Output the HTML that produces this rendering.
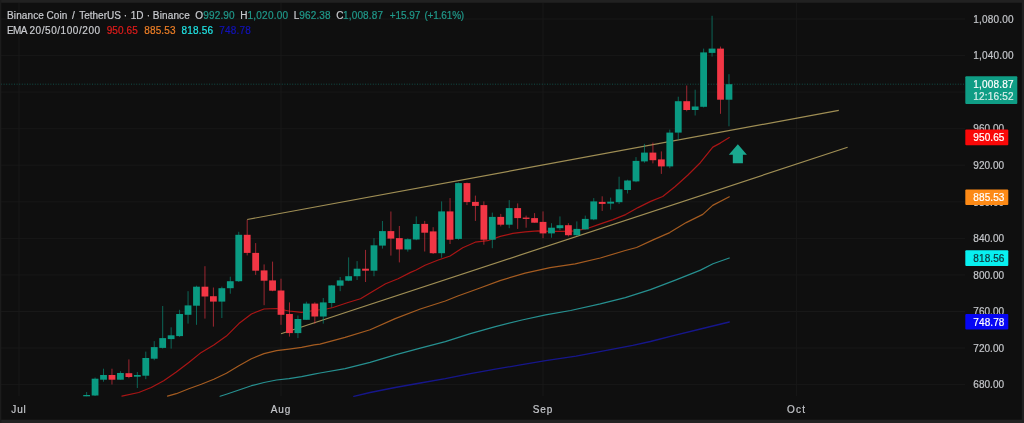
<!DOCTYPE html>
<html><head><meta charset="utf-8"><title>Binance Coin / TetherUS</title>
<style>
html,body{margin:0;padding:0;background:#0f0f0f;}
body{width:1024px;height:423px;overflow:hidden;position:relative;font-family:"Liberation Sans","DejaVu Sans",sans-serif;color:#c9cbcf;}
#frame{position:absolute;left:0;top:0;width:1024px;height:423px;box-sizing:border-box;border-style:solid;border-color:#1f1f1f;border-width:3px 3px 4px 1px;pointer-events:none;}
.s{position:absolute;white-space:pre;font-size:10px;line-height:12px;height:12px;-webkit-text-stroke:0.2px currentColor;transform-origin:0 0;}
.box{position:absolute;left:965.3px;width:43px;height:15.6px;border-radius:1px;}
</style></head><body>
<svg width="1024" height="423" viewBox="0 0 1024 423" style="position:absolute;left:0;top:0">
<rect x="1" y="384.1" width="964" height="1" fill="#181818"/>
<rect x="1" y="347.5" width="964" height="1" fill="#181818"/>
<rect x="1" y="311.0" width="964" height="1" fill="#181818"/>
<rect x="1" y="274.4" width="964" height="1" fill="#181818"/>
<rect x="1" y="237.9" width="964" height="1" fill="#181818"/>
<rect x="1" y="201.3" width="964" height="1" fill="#181818"/>
<rect x="1" y="164.7" width="964" height="1" fill="#181818"/>
<rect x="1" y="128.2" width="964" height="1" fill="#181818"/>
<rect x="1" y="91.6" width="964" height="1" fill="#181818"/>
<rect x="1" y="55.1" width="964" height="1" fill="#181818"/>
<rect x="1" y="18.5" width="964" height="1" fill="#181818"/>
<rect x="18.5" y="3" width="1" height="393" fill="#181818"/>
<rect x="280.5" y="3" width="1" height="393" fill="#181818"/>
<rect x="542.5" y="3" width="1" height="393" fill="#181818"/>
<rect x="796.1" y="3" width="1" height="393" fill="#181818"/>
<line x1="1" y1="84.2" x2="965" y2="84.2" stroke="#12a090" stroke-width="1" stroke-dasharray="1 1.6" opacity="0.42"/>
<line x1="247.2" y1="219.5" x2="838.8" y2="110.4" stroke="#c8b268" stroke-width="1.2" opacity="0.78"/>
<line x1="281" y1="333.7" x2="847.6" y2="147.3" stroke="#c8b268" stroke-width="1.2" opacity="0.78"/>
<polyline points="353.8,396.3 370.1,392.5 395.2,387.5 420.3,383 445.3,378.7 470.4,373.7 495.4,369.2 520.5,364.9 545.6,360.7 576.1,356.2 632.8,345.3 650.4,341.5 675.4,335.2 700.5,329 729.3,322" fill="none" stroke="#1a1ac0" stroke-width="1.3" stroke-linejoin="round" stroke-linecap="round" opacity="0.7"/>
<polyline points="220.1,396.2 226.4,394.2 238.9,390 251.4,385.7 264,382.5 276.5,380 289,378.7 301.6,376.7 314.1,374.2 320,373 345.1,368.7 370.1,362.4 395.2,354.9 420.3,348.1 445.3,341.6 470.4,333.6 495.4,326.6 522,320 545.6,314.8 570.6,310.5 600.3,303.9 625.3,297.6 650.4,289.6 675.4,280.1 700.5,270.1 713,263.8 729.3,258" fill="none" stroke="#30c8c8" stroke-width="1.2" stroke-linejoin="round" stroke-linecap="round" opacity="0.7"/>
<polyline points="167.5,396.2 176.3,393.7 188.8,388.7 201.3,384.2 213.8,379.2 226.4,373.2 238.9,365.7 251.4,358.7 264,353.6 276.5,350.6 289,349.1 301.6,347.4 314.1,344.9 320,344.1 345.1,337.4 370.1,329.8 395.2,318.6 420.3,309 445.3,301 457.8,296 480,288 500,280.6 525.1,273.1 550.1,267.6 575.2,263.8 600.3,258 625.3,250.5 636.6,247.5 653.1,239.9 669.7,232.6 686.2,222.6 702.8,214.4 712.7,205.4 729.3,196.8" fill="none" stroke="#e47c28" stroke-width="1.2" stroke-linejoin="round" stroke-linecap="round" opacity="0.7"/>
<polyline points="121.9,396.2 138.7,392.5 151.2,387.5 163.7,380.7 176.3,372 188.8,362.4 201.3,352.4 213.8,344.9 226.4,336.1 238.9,323.6 251.4,314 264,309 276.5,308.5 289,311 301.6,312.3 314.1,310.5 326.6,309 333,307.5 348,302.5 360.5,298.7 373,291.2 385.6,283.7 398.1,278.7 410.6,272.4 416.1,270 425,265.3 437.6,260.3 450.1,256 462.7,247.7 475.2,242.2 487.7,240.7 500.3,236.4 512.8,233.4 525.3,231.9 537.8,230.9 550.4,231.4 562.9,231.4 575.4,230.9 588,228.2 600.5,223.9 613,219.6 625.6,214.6 638.1,207.6 650.6,201.4 662.7,196.5 675.2,186.5 687.7,175.2 700.3,162.7 712.8,147.1 720.3,143.1 729.3,137.6" fill="none" stroke="#e41818" stroke-width="1.2" stroke-linejoin="round" stroke-linecap="round" opacity="0.72"/>
<rect x="86.12" y="392.0" width="1.0" height="4.3" fill="#0a9a82" opacity="0.62"/><rect x="83.22" y="395.0" width="6.8" height="1.3" fill="#0a9a82"/>
<rect x="94.57" y="377.5" width="1.0" height="18.5" fill="#0a9a82" opacity="0.62"/><rect x="91.67" y="378.7" width="6.8" height="16.8" fill="#0a9a82"/>
<rect x="103.02" y="368.7" width="1.0" height="13.0" fill="#0a9a82" opacity="0.62"/><rect x="100.12" y="375.0" width="6.8" height="4.7" fill="#0a9a82"/>
<rect x="111.47" y="368.7" width="1.0" height="15.8" fill="#f23645" opacity="0.62"/><rect x="108.57" y="375.0" width="6.8" height="4.7" fill="#f23645"/>
<rect x="119.92" y="371.2" width="1.0" height="8.5" fill="#0a9a82" opacity="0.62"/><rect x="117.02" y="373.0" width="6.8" height="6.7" fill="#0a9a82"/>
<rect x="128.38" y="359.4" width="1.0" height="18.8" fill="#f23645" opacity="0.62"/><rect x="125.48" y="373.2" width="6.8" height="3.8" fill="#f23645"/>
<rect x="136.83" y="372.0" width="1.0" height="16.0" fill="#0a9a82" opacity="0.62"/><rect x="133.93" y="375.0" width="6.8" height="1.7" fill="#0a9a82"/>
<rect x="145.28" y="351.6" width="1.0" height="27.6" fill="#0a9a82" opacity="0.62"/><rect x="142.38" y="358.0" width="6.8" height="17.7" fill="#0a9a82"/>
<rect x="153.73" y="341.1" width="1.0" height="19.1" fill="#0a9a82" opacity="0.62"/><rect x="150.83" y="347.1" width="6.8" height="11.6" fill="#0a9a82"/>
<rect x="162.18" y="306.0" width="1.0" height="42.6" fill="#0a9a82" opacity="0.62"/><rect x="159.28" y="338.1" width="6.8" height="9.8" fill="#0a9a82"/>
<rect x="170.64" y="327.3" width="1.0" height="21.3" fill="#0a9a82" opacity="0.62"/><rect x="167.74" y="335.3" width="6.8" height="3.8" fill="#0a9a82"/>
<rect x="179.09" y="309.8" width="1.0" height="27.1" fill="#0a9a82" opacity="0.62"/><rect x="176.19" y="314.0" width="6.8" height="22.1" fill="#0a9a82"/>
<rect x="187.54" y="291.2" width="1.0" height="32.4" fill="#0a9a82" opacity="0.62"/><rect x="184.64" y="305.4" width="6.8" height="9.4" fill="#0a9a82"/>
<rect x="195.99" y="285.7" width="1.0" height="39.1" fill="#0a9a82" opacity="0.62"/><rect x="193.09" y="286.7" width="6.8" height="19.0" fill="#0a9a82"/>
<rect x="204.44" y="266.2" width="1.0" height="52.4" fill="#f23645" opacity="0.62"/><rect x="201.54" y="286.7" width="6.8" height="9.8" fill="#f23645"/>
<rect x="212.90" y="287.5" width="1.0" height="39.1" fill="#f23645" opacity="0.62"/><rect x="210.00" y="296.2" width="6.8" height="5.4" fill="#f23645"/>
<rect x="221.35" y="286.7" width="1.0" height="31.3" fill="#0a9a82" opacity="0.62"/><rect x="218.45" y="288.2" width="6.8" height="13.4" fill="#0a9a82"/>
<rect x="229.80" y="276.7" width="1.0" height="17.0" fill="#0a9a82" opacity="0.62"/><rect x="226.90" y="281.2" width="6.8" height="7.0" fill="#0a9a82"/>
<rect x="238.25" y="231.8" width="1.0" height="50.2" fill="#0a9a82" opacity="0.62"/><rect x="235.35" y="234.8" width="6.8" height="46.4" fill="#0a9a82"/>
<rect x="246.70" y="219.8" width="1.0" height="35.6" fill="#f23645" opacity="0.62"/><rect x="243.80" y="234.8" width="6.8" height="18.1" fill="#f23645"/>
<rect x="255.16" y="243.1" width="1.0" height="31.8" fill="#f23645" opacity="0.62"/><rect x="252.26" y="252.9" width="6.8" height="17.8" fill="#f23645"/>
<rect x="263.61" y="264.4" width="1.0" height="40.8" fill="#f23645" opacity="0.62"/><rect x="260.71" y="270.4" width="6.8" height="10.3" fill="#f23645"/>
<rect x="272.06" y="261.6" width="1.0" height="29.6" fill="#f23645" opacity="0.62"/><rect x="269.16" y="280.4" width="6.8" height="10.3" fill="#f23645"/>
<rect x="280.51" y="278.7" width="1.0" height="46.1" fill="#f23645" opacity="0.62"/><rect x="277.61" y="290.5" width="6.8" height="24.3" fill="#f23645"/>
<rect x="288.96" y="302.4" width="1.0" height="34.2" fill="#f23645" opacity="0.62"/><rect x="286.06" y="314.0" width="6.8" height="19.1" fill="#f23645"/>
<rect x="297.42" y="315.5" width="1.0" height="22.6" fill="#0a9a82" opacity="0.62"/><rect x="294.52" y="319.0" width="6.8" height="14.1" fill="#0a9a82"/>
<rect x="305.87" y="301.7" width="1.0" height="18.1" fill="#0a9a82" opacity="0.62"/><rect x="302.97" y="303.6" width="6.8" height="16.2" fill="#0a9a82"/>
<rect x="314.32" y="302.3" width="1.0" height="21.3" fill="#f23645" opacity="0.62"/><rect x="311.42" y="303.6" width="6.8" height="12.9" fill="#f23645"/>
<rect x="322.77" y="298.0" width="1.0" height="25.6" fill="#0a9a82" opacity="0.62"/><rect x="319.87" y="302.4" width="6.8" height="14.1" fill="#0a9a82"/>
<rect x="331.22" y="285.0" width="1.0" height="22.5" fill="#0a9a82" opacity="0.62"/><rect x="328.32" y="285.4" width="6.8" height="17.6" fill="#0a9a82"/>
<rect x="339.68" y="277.0" width="1.0" height="14.2" fill="#0a9a82" opacity="0.62"/><rect x="336.78" y="280.4" width="6.8" height="5.3" fill="#0a9a82"/>
<rect x="348.13" y="257.4" width="1.0" height="23.8" fill="#0a9a82" opacity="0.62"/><rect x="345.23" y="276.2" width="6.8" height="4.5" fill="#0a9a82"/>
<rect x="356.58" y="261.1" width="1.0" height="18.9" fill="#0a9a82" opacity="0.62"/><rect x="353.68" y="268.7" width="6.8" height="7.5" fill="#0a9a82"/>
<rect x="365.03" y="249.9" width="1.0" height="32.1" fill="#f23645" opacity="0.62"/><rect x="362.13" y="268.7" width="6.8" height="2.0" fill="#f23645"/>
<rect x="373.48" y="238.1" width="1.0" height="38.1" fill="#0a9a82" opacity="0.62"/><rect x="370.58" y="245.3" width="6.8" height="25.4" fill="#0a9a82"/>
<rect x="381.94" y="221.0" width="1.0" height="27.6" fill="#0a9a82" opacity="0.62"/><rect x="379.04" y="231.1" width="6.8" height="14.5" fill="#0a9a82"/>
<rect x="390.39" y="211.5" width="1.0" height="44.1" fill="#f23645" opacity="0.62"/><rect x="387.49" y="231.1" width="6.8" height="7.5" fill="#f23645"/>
<rect x="398.84" y="226.0" width="1.0" height="36.4" fill="#f23645" opacity="0.62"/><rect x="395.94" y="238.1" width="6.8" height="11.3" fill="#f23645"/>
<rect x="407.29" y="238.3" width="1.0" height="13.3" fill="#0a9a82" opacity="0.62"/><rect x="404.39" y="239.2" width="6.8" height="10.3" fill="#0a9a82"/>
<rect x="415.74" y="216.4" width="1.0" height="23.8" fill="#0a9a82" opacity="0.62"/><rect x="412.84" y="224.0" width="6.8" height="15.5" fill="#0a9a82"/>
<rect x="424.20" y="220.9" width="1.0" height="30.6" fill="#f23645" opacity="0.62"/><rect x="421.30" y="223.9" width="6.8" height="8.8" fill="#f23645"/>
<rect x="432.65" y="227.2" width="1.0" height="26.8" fill="#f23645" opacity="0.62"/><rect x="429.75" y="231.4" width="6.8" height="21.8" fill="#f23645"/>
<rect x="441.10" y="201.4" width="1.0" height="56.3" fill="#0a9a82" opacity="0.62"/><rect x="438.20" y="211.4" width="6.8" height="41.8" fill="#0a9a82"/>
<rect x="449.55" y="198.1" width="1.0" height="45.9" fill="#f23645" opacity="0.62"/><rect x="446.65" y="211.4" width="6.8" height="28.3" fill="#f23645"/>
<rect x="458.00" y="182.6" width="1.0" height="57.1" fill="#0a9a82" opacity="0.62"/><rect x="455.10" y="183.1" width="6.8" height="55.8" fill="#0a9a82"/>
<rect x="466.46" y="182.6" width="1.0" height="22.5" fill="#f23645" opacity="0.62"/><rect x="463.56" y="183.1" width="6.8" height="19.0" fill="#f23645"/>
<rect x="474.91" y="195.6" width="1.0" height="25.3" fill="#f23645" opacity="0.62"/><rect x="472.01" y="201.9" width="6.8" height="4.0" fill="#f23645"/>
<rect x="483.36" y="201.4" width="1.0" height="43.3" fill="#f23645" opacity="0.62"/><rect x="480.46" y="205.1" width="6.8" height="34.6" fill="#f23645"/>
<rect x="491.81" y="212.6" width="1.0" height="35.6" fill="#0a9a82" opacity="0.62"/><rect x="488.91" y="216.9" width="6.8" height="22.8" fill="#0a9a82"/>
<rect x="500.26" y="213.9" width="1.0" height="12.5" fill="#f23645" opacity="0.62"/><rect x="497.36" y="216.9" width="6.8" height="7.8" fill="#f23645"/>
<rect x="508.72" y="200.1" width="1.0" height="28.1" fill="#0a9a82" opacity="0.62"/><rect x="505.82" y="208.1" width="6.8" height="16.6" fill="#0a9a82"/>
<rect x="517.17" y="203.4" width="1.0" height="25.5" fill="#f23645" opacity="0.62"/><rect x="514.27" y="208.1" width="6.8" height="10.0" fill="#f23645"/>
<rect x="525.62" y="215.6" width="1.0" height="12.1" fill="#f23645" opacity="0.62"/><rect x="522.72" y="217.6" width="6.8" height="1.3" fill="#f23645"/>
<rect x="534.07" y="213.1" width="1.0" height="9.6" fill="#f23645" opacity="0.62"/><rect x="531.17" y="218.1" width="6.8" height="4.6" fill="#f23645"/>
<rect x="542.52" y="211.4" width="1.0" height="26.8" fill="#f23645" opacity="0.62"/><rect x="539.62" y="221.9" width="6.8" height="11.5" fill="#f23645"/>
<rect x="550.98" y="223.2" width="1.0" height="14.5" fill="#0a9a82" opacity="0.62"/><rect x="548.08" y="227.7" width="6.8" height="5.7" fill="#0a9a82"/>
<rect x="559.43" y="216.4" width="1.0" height="13.8" fill="#0a9a82" opacity="0.62"/><rect x="556.53" y="225.2" width="6.8" height="3.0" fill="#0a9a82"/>
<rect x="567.88" y="223.2" width="1.0" height="13.2" fill="#f23645" opacity="0.62"/><rect x="564.98" y="225.2" width="6.8" height="10.0" fill="#f23645"/>
<rect x="576.33" y="221.4" width="1.0" height="14.5" fill="#0a9a82" opacity="0.62"/><rect x="573.43" y="228.9" width="6.8" height="6.3" fill="#0a9a82"/>
<rect x="584.78" y="215.6" width="1.0" height="13.8" fill="#0a9a82" opacity="0.62"/><rect x="581.88" y="218.9" width="6.8" height="10.5" fill="#0a9a82"/>
<rect x="593.24" y="198.1" width="1.0" height="22.1" fill="#0a9a82" opacity="0.62"/><rect x="590.34" y="201.4" width="6.8" height="18.0" fill="#0a9a82"/>
<rect x="601.69" y="196.3" width="1.0" height="14.6" fill="#f23645" opacity="0.62"/><rect x="598.79" y="201.9" width="6.8" height="2.0" fill="#f23645"/>
<rect x="610.14" y="197.6" width="1.0" height="12.0" fill="#0a9a82" opacity="0.62"/><rect x="607.24" y="201.7" width="6.8" height="1.9" fill="#0a9a82"/>
<rect x="618.59" y="176.7" width="1.0" height="27.3" fill="#0a9a82" opacity="0.62"/><rect x="615.69" y="189.3" width="6.8" height="12.9" fill="#0a9a82"/>
<rect x="627.04" y="179.7" width="1.0" height="13.8" fill="#0a9a82" opacity="0.62"/><rect x="624.14" y="180.5" width="6.8" height="9.5" fill="#0a9a82"/>
<rect x="635.50" y="157.1" width="1.0" height="25.1" fill="#0a9a82" opacity="0.62"/><rect x="632.60" y="160.9" width="6.8" height="20.5" fill="#0a9a82"/>
<rect x="643.95" y="143.9" width="1.0" height="18.8" fill="#0a9a82" opacity="0.62"/><rect x="641.05" y="152.6" width="6.8" height="8.8" fill="#0a9a82"/>
<rect x="652.40" y="142.6" width="1.0" height="20.8" fill="#f23645" opacity="0.62"/><rect x="649.50" y="152.6" width="6.8" height="7.6" fill="#f23645"/>
<rect x="660.85" y="151.4" width="1.0" height="22.5" fill="#f23645" opacity="0.62"/><rect x="657.95" y="159.4" width="6.8" height="7.0" fill="#f23645"/>
<rect x="669.30" y="129.6" width="1.0" height="38.6" fill="#0a9a82" opacity="0.62"/><rect x="666.40" y="132.6" width="6.8" height="33.8" fill="#0a9a82"/>
<rect x="677.76" y="96.7" width="1.0" height="42.9" fill="#0a9a82" opacity="0.62"/><rect x="674.86" y="101.2" width="6.8" height="31.4" fill="#0a9a82"/>
<rect x="686.21" y="85.5" width="1.0" height="25.8" fill="#f23645" opacity="0.62"/><rect x="683.31" y="101.2" width="6.8" height="8.8" fill="#f23645"/>
<rect x="694.66" y="89.7" width="1.0" height="25.8" fill="#0a9a82" opacity="0.62"/><rect x="691.76" y="106.5" width="6.8" height="3.5" fill="#0a9a82"/>
<rect x="703.11" y="48.6" width="1.0" height="58.9" fill="#0a9a82" opacity="0.62"/><rect x="700.21" y="52.4" width="6.8" height="54.4" fill="#0a9a82"/>
<rect x="711.56" y="15.8" width="1.0" height="40.8" fill="#0a9a82" opacity="0.62"/><rect x="708.66" y="48.6" width="6.8" height="4.3" fill="#0a9a82"/>
<rect x="720.02" y="46.6" width="1.0" height="67.2" fill="#f23645" opacity="0.62"/><rect x="717.12" y="48.6" width="6.8" height="51.1" fill="#f23645"/>
<rect x="728.47" y="74.2" width="1.0" height="52.1" fill="#0a9a82" opacity="0.62"/><rect x="725.57" y="84.2" width="6.8" height="15.5" fill="#0a9a82"/>
<polygon points="737.85,144.2 746.9,154.7 742.9,154.7 742.9,163.2 732.8,163.2 732.8,154.7 728.8,154.7" fill="#1aa88f"/>
</svg>
<span class="s" style="left:7.05px;top:9.60px;color:#c9cbcf;letter-spacing:0.108px">Binance</span>
<span class="s" style="left:46.55px;top:9.60px;color:#c9cbcf;letter-spacing:0.080px">Coin</span>
<span class="s" style="left:72.11px;top:9.60px;color:#c9cbcf">/</span>
<span class="s" style="left:79.25px;top:9.60px;color:#c9cbcf;letter-spacing:-0.011px">TetherUS</span>
<span class="s" style="left:123.83px;top:9.60px;color:#c9cbcf">·</span>
<span class="s" style="left:130.75px;top:9.60px;color:#c9cbcf;letter-spacing:-0.098px">1D</span>
<span class="s" style="left:146.63px;top:9.60px;color:#c9cbcf">·</span>
<span class="s" style="left:152.85px;top:9.60px;color:#c9cbcf;letter-spacing:0.137px">Binance</span>
<span class="s" style="left:195.31px;top:9.60px;color:#c9cbcf">O</span>
<span class="s" style="left:203.15px;top:9.60px;color:#20998a;letter-spacing:0.184px">992.90</span>
<span class="s" style="left:240.33px;top:9.60px;color:#c9cbcf">H</span>
<span class="s" style="left:247.55px;top:9.60px;color:#20998a;letter-spacing:0.220px">1,020.00</span>
<span class="s" style="left:293.77px;top:9.60px;color:#c9cbcf">L</span>
<span class="s" style="left:299.35px;top:9.60px;color:#20998a;letter-spacing:0.118px">962.38</span>
<span class="s" style="left:336.28px;top:9.60px;color:#c9cbcf">C</span>
<span class="s" style="left:343.05px;top:9.60px;color:#20998a;letter-spacing:0.145px">1,008.87</span>
<span class="s" style="left:389.75px;top:9.60px;color:#20998a;letter-spacing:-0.046px">+15.97</span>
<span class="s" style="left:424.45px;top:9.60px;color:#20998a;letter-spacing:-0.157px">(+1.61%)</span>
<span class="s" style="left:7.05px;top:24.60px;color:#c9cbcf;letter-spacing:-0.600px">EMA</span>
<span class="s" style="left:29.45px;top:24.60px;color:#c9cbcf;letter-spacing:0.557px">20/50/100/200</span>
<span class="s" style="left:106.65px;top:24.60px;color:#e21c1c;letter-spacing:0.118px">950.65</span>
<span class="s" style="left:144.25px;top:24.60px;color:#ee7f26;letter-spacing:0.134px">885.53</span>
<span class="s" style="left:181.45px;top:24.60px;color:#20e4e4;letter-spacing:0.201px">818.56</span>
<span class="s" style="left:219.25px;top:24.60px;color:#1212b8;letter-spacing:0.184px">748.78</span>
<span class="s" style="left:973.35px;top:378.60px;color:#c4c6ca;letter-spacing:0.018px">680.00</span>
<span class="s" style="left:973.35px;top:342.60px;color:#c4c6ca;letter-spacing:0.018px">720.00</span>
<span class="s" style="left:973.35px;top:305.60px;color:#c4c6ca;letter-spacing:0.018px">760.00</span>
<span class="s" style="left:973.35px;top:269.60px;color:#c4c6ca;letter-spacing:0.018px">800.00</span>
<span class="s" style="left:973.35px;top:232.60px;color:#c4c6ca;letter-spacing:0.018px">840.00</span>
<span class="s" style="left:973.35px;top:196.60px;color:#c4c6ca;letter-spacing:0.018px">880.00</span>
<span class="s" style="left:973.35px;top:159.60px;color:#c4c6ca;letter-spacing:0.018px">920.00</span>
<span class="s" style="left:973.35px;top:122.60px;color:#c4c6ca;letter-spacing:0.018px">960.00</span>
<span class="s" style="left:973.35px;top:86.60px;color:#c4c6ca;letter-spacing:0.170px">1,000.00</span>
<span class="s" style="left:973.35px;top:49.60px;color:#c4c6ca;letter-spacing:0.170px">1,040.00</span>
<span class="s" style="left:973.35px;top:13.60px;color:#c4c6ca;letter-spacing:0.170px">1,080.00</span>
<span class="s" style="left:11.25px;top:403.60px;color:#c4c6ca;letter-spacing:0.901px">Jul</span>
<span class="s" style="left:270.81px;top:403.60px;color:#c4c6ca;letter-spacing:0.868px">Aug</span>
<span class="s" style="left:532.82px;top:403.60px;color:#c4c6ca;letter-spacing:0.868px">Sep</span>
<span class="s" style="left:786.88px;top:403.60px;color:#c4c6ca;letter-spacing:1.279px">Oct</span>
<svg width="1024" height="423" viewBox="0 0 1024 423" style="position:absolute;left:0;top:0">
<rect x="965.3" y="129.6" width="43" height="15.6" rx="1" fill="#fa0808"/>
<rect x="965.3" y="189.4" width="43" height="15.6" rx="1" fill="#fd8a16"/>
<rect x="965.3" y="250.2" width="43" height="15.7" rx="1" fill="#08f0f0"/>
<rect x="965.3" y="313.9" width="43" height="15.6" rx="1" fill="#0606f4"/>
<rect x="965.3" y="76.2" width="52" height="27.8" rx="1" fill="#0f9d85"/>
</svg>
<span class="s" style="left:973.35px;top:78.60px;color:#ffffff;letter-spacing:0.170px">1,008.87</span>
<span class="s" style="left:973.35px;top:90.60px;color:#d8efeb;letter-spacing:0.170px">12:16:52</span>
<span class="s" style="left:973.35px;top:131.60px;color:#ffffff;letter-spacing:0.101px">950.65</span>
<span class="s" style="left:973.35px;top:191.60px;color:#ffffff;letter-spacing:0.101px">885.53</span>
<span class="s" style="left:973.35px;top:252.60px;color:#0f3238;letter-spacing:0.101px">818.56</span>
<span class="s" style="left:973.35px;top:316.60px;color:#ffffff;letter-spacing:0.101px">748.78</span>
<svg width="1024" height="423" viewBox="0 0 1024 423" style="position:absolute;left:0;top:0;pointer-events:none">
<rect x="0" y="0" width="1024" height="2.8" fill="#212121"/>
<rect x="0" y="419.7" width="1024" height="3.3" fill="#222222"/>
<rect x="0" y="0" width="1.3" height="423" fill="#1c1c1c"/>
<rect x="1021.8" y="0" width="2.2" height="423" fill="#202020"/>
</svg>
</body></html>
